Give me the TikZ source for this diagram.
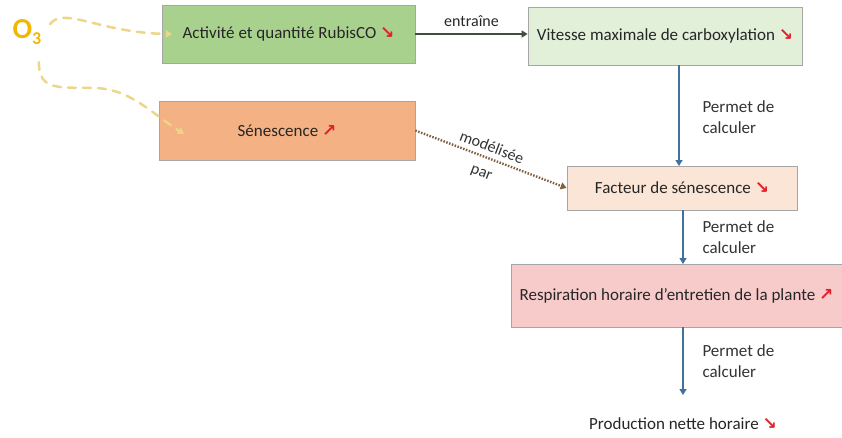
\documentclass[tikz,border=0pt]{standalone}
\usepackage{fontspec}
\setmainfont{Carlito}
\newfontfamily\arrowfont{DejaVu Sans}
\usetikzlibrary{arrows.meta}
\definecolor{boxgreen}{HTML}{A9D18E}
\definecolor{boxlgreen}{HTML}{E2F0D9}
\definecolor{boxorange}{HTML}{F4B183}
\definecolor{boxpeach}{HTML}{FBE5D6}
\definecolor{boxpink}{HTML}{F8CBCB}
\definecolor{bordergray}{HTML}{A6A6A6}
\definecolor{flowblue}{HTML}{41719C}
\definecolor{darkline}{HTML}{3F4F3F}
\definecolor{dotbrown}{HTML}{7F5F3F}
\definecolor{ozone}{HTML}{F2B800}
\definecolor{ozline}{HTML}{EDD68A}
\definecolor{downred}{HTML}{E0202A}
\newcommand{\dn}{\textcolor{downred}{\arrowfont\bfseries ↘}}
\newcommand{\up}{\textcolor{downred}{\arrowfont\bfseries ↗}}
\tikzset{
  boxnode/.style={draw=bordergray, line width=0.8pt, inner sep=0pt, font=\fontsize{17}{20}\selectfont, text=black!85},
  flow/.style={draw=flowblue, line width=2.4pt, -{Triangle[width=7pt,length=6pt]}},
  lbl/.style={font=\fontsize{17}{21}\selectfont, text=black!80, align=left, anchor=west},
  ozarrow/.style={draw=ozline, line width=2.5pt, dash pattern=on 8pt off 7pt, line cap=round, -{Triangle[width=7pt,length=6pt]}}
}
\begin{document}
\begin{tikzpicture}[x=1pt,y=-1pt]
\useasboundingbox (0,0) rectangle (842,437);
\node[boxnode, fill=boxgreen, minimum width=253pt, minimum height=58pt] (act) at (288.5,34) {Activité et quantité RubisCO \dn};
\node[boxnode, fill=boxlgreen, minimum width=274pt, minimum height=58pt] (vit) at (665,36) {Vitesse maximale de carboxylation \dn};
\node[boxnode, fill=boxorange, minimum width=256pt, minimum height=59pt] (sen) at (287,130.5) {Sénescence \up};
\node[boxnode, fill=boxpeach, minimum width=230pt, minimum height=44pt] (fac) at (682,188) {Facteur de sénescence \dn};
\node[boxnode, fill=boxpink, minimum width=331pt, minimum height=63pt] (res) at (676.5,295.5) {Respiration horaire d’entretien de la plante \up};
\node[font=\fontsize{17}{20}\selectfont, text=black!85] (prod) at (683,424) {Production nette horaire \dn};
\coordinate (pend) at (683,395);
\node[font=\fontsize{29}{30}\selectfont\bfseries, text=ozone] (o3) at (27,32) {O\raisebox{-0.4ex}{\fontsize{18}{18}\selectfont 3}};

\draw[darkline, line width=2.2pt, -{Triangle[width=7pt,length=6pt]}] (act.east) -- node[above=3pt, font=\fontsize{16}{18}\selectfont, text=black!85] (entr) {entraîne} (vit.west |- act.east);
\draw[flow] (679,65) -- (679,166) node[lbl] (l1) at (698,117) {Permet de\\calculer};
\draw[flow] (683,210) -- (683,264) node[lbl] (l2) at (698,237) {Permet de\\calculer};
\draw[flow] (683,327) -- (pend) node[lbl] (l3) at (698,361) {Permet de\\calculer};
\draw[dotbrown, line width=2.4pt, dash pattern=on 1.5pt off 1.5pt, -{Triangle[width=7pt,length=6pt]}] (sen.east) -- (fac.west);
\node[font=\fontsize{16}{18}\selectfont, text=black!80, rotate=-21, inner sep=0pt] (mod) at (492,147) {modélisée};
\node[font=\fontsize{16}{18}\selectfont, text=black!80, rotate=-21, inner sep=0pt] (par) at (481,174) {par};

\draw[ozarrow] (50,24) .. controls (64,6) and (100,33) .. (172,34);
\draw[ozarrow] (39,62) .. controls (38,92) and (62,87) .. (95,88) .. controls (130,89) and (150,112) .. (184,134);
\end{tikzpicture}
\end{document}
